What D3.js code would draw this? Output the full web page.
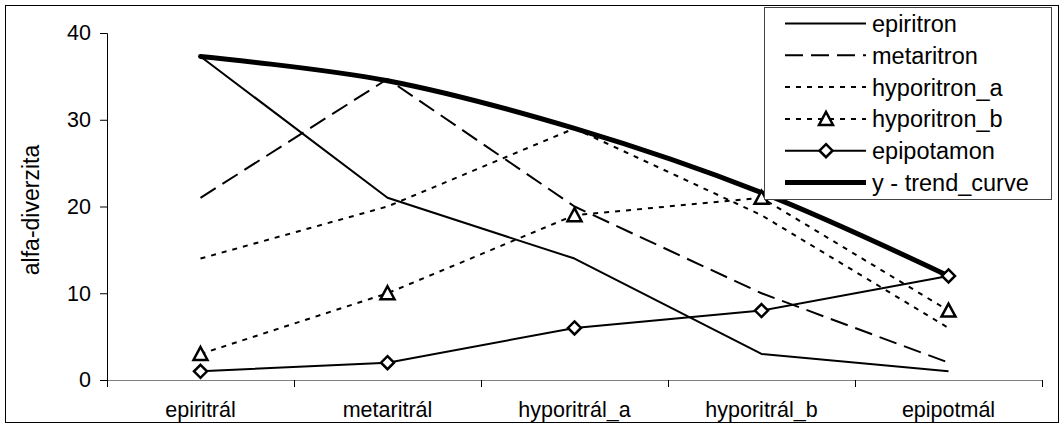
<!DOCTYPE html>
<html>
<head>
<meta charset="utf-8">
<script src="https://cdn.jsdelivr.net/npm/d3@7"></script>
<style>
  body { margin: 0; background: #fff; }
  text { font-family: "Liberation Sans", Arial, sans-serif; fill: #000; }
</style>
</head>
<body>
<svg id="chart" width="1064" height="428"></svg>
<script>
// categories and series
var categories = ["epiritrál", "metaritrál", "hyporitrál_a", "hyporitrál_b", "epipotmál"];
var epiritron    = [37.3, 21, 14, 3, 1];
var metaritron   = [21, 34.7, 20, 10, 2];
var hyporitron_a = [14, 20, 29, 19, 6];
var hyporitron_b = [3, 10, 19, 21, 8];
var epipotamon   = [1, 2, 6, 8, 12];
var trend_curve  = [37.3, 34.5, 29, 21.6, 12];
var yTicks = [0, 10, 20, 30, 40];

var series = [
  {name: "epiritron",       values: epiritron,    dash: null,   width: 2, marker: null},
  {name: "metaritron",      values: metaritron,   dash: "18,8", width: 2, marker: null},
  {name: "hyporitron_a",    values: hyporitron_a, dash: "5,6",  width: 2, marker: null},
  {name: "hyporitron_b",    values: hyporitron_b, dash: "5,6",  width: 2, marker: "triangle"},
  {name: "epipotamon",      values: epipotamon,   dash: null,   width: 2, marker: "diamond"},
  {name: "y - trend_curve", values: trend_curve,  dash: null,   width: 5, marker: null, smooth: true}
];

var svg = d3.select("#chart");
var margin = {left: 107, right: 22, top: 33, bottom: 48};
var width = 1064 - margin.left - margin.right;
var height = 428 - margin.top - margin.bottom;

// outer frame
svg.append("rect")
    .attr("x", 5.5).attr("y", 5.5)
    .attr("width", 1053).attr("height", 417)
    .attr("fill", "none")
    .attr("stroke", "#000")
    .attr("stroke-width", 1);

var g = svg.append("g")
    .attr("transform", "translate(" + margin.left + "," + margin.top + ")");

var x = d3.scaleBand()
    .domain(categories)
    .range([0, width]);

var y = d3.scaleLinear()
    .domain([0, 40])
    .range([height, 0]);

// y axis
var yAxis = g.append("g")
    .call(d3.axisLeft(y).tickValues(yTicks).tickSize(7).tickPadding(9));
yAxis.select(".domain").attr("stroke", "#000");
yAxis.selectAll("text").style("font-size", "21.5px").style("font-family", "Liberation Sans, Arial, sans-serif");

// x axis
var xAxis = g.append("g")
    .attr("transform", "translate(0," + height + ")")
    .call(d3.axisBottom(x).tickSize(0).tickPadding(22));
xAxis.select(".domain").attr("stroke", "#808080");
xAxis.selectAll("text").style("font-size", "21.5px").style("font-family", "Liberation Sans, Arial, sans-serif");

// band boundary ticks
g.append("g")
  .selectAll("line")
  .data(categories.concat([null]))
  .join("line")
    .attr("x1", function(d, i) { return Math.round(i * x.bandwidth()) + 0.5; })
    .attr("x2", function(d, i) { return Math.round(i * x.bandwidth()) + 0.5; })
    .attr("y1", height)
    .attr("y2", height + 7)
    .attr("stroke", "#000");

// y axis label
svg.append("text")
    .attr("transform", "translate(39," + (margin.top + 177) + ") rotate(-90)")
    .attr("text-anchor", "middle")
    .style("font-size", "23px")
    .text("alfa-diverzita");

var cx = function(i) { return x(categories[i]) + x.bandwidth() / 2; };

var line = d3.line()
    .x(function(d, i) { return cx(i); })
    .y(function(d) { return y(d); });

var smoothLine = d3.line()
    .x(function(d, i) { return cx(i); })
    .y(function(d) { return y(d); })
    .curve(d3.curveCatmullRom.alpha(0.5));

series.forEach(function(s) {
  g.append("path")
      .datum(s.values)
      .attr("fill", "none")
      .attr("stroke", "#000")
      .attr("stroke-width", s.width)
      .attr("stroke-linejoin", "round")
      .attr("stroke-linecap", s.smooth ? "round" : "butt")
      .attr("stroke-dasharray", s.dash)
      .attr("d", s.smooth ? smoothLine : line);
});

var triangle = "M0,-7L7,6L-7,6Z";
var diamond = "M0,-6.5L6.5,0L0,6.5L-6.5,0Z";

function drawMarker(sel, type) {
  sel.append("path")
      .attr("d", type === "triangle" ? triangle : diamond)
      .attr("fill", "#fff")
      .attr("stroke", "#000")
      .attr("stroke-width", 2.5);
}

series.filter(function(s) { return s.marker; }).forEach(function(s) {
  g.append("g")
    .selectAll("g")
    .data(s.values)
    .join("g")
      .attr("transform", function(d, i) { return "translate(" + cx(i) + "," + y(d) + ")"; })
      .each(function() { drawMarker(d3.select(this), s.marker); });
});

// legend
var legend = svg.append("g").attr("transform", "translate(764,7)");
legend.append("rect")
    .attr("x", 0.5).attr("y", 0.5)
    .attr("width", 287).attr("height", 192)
    .attr("fill", "#fff")
    .attr("stroke", "#444")
    .attr("stroke-width", 1);

var rows = legend.selectAll("g.row")
    .data(series)
    .join("g")
      .attr("class", "row")
      .attr("transform", function(d, i) { return "translate(0," + (16.5 + i * 31.8) + ")"; });

rows.append("line")
    .attr("x1", 21).attr("x2", 102)
    .attr("y1", 0).attr("y2", 0)
    .attr("stroke", "#000")
    .attr("stroke-width", function(d) { return d.width; })
    .attr("stroke-dasharray", function(d) { return d.dash; });

rows.filter(function(d) { return d.marker; })
    .append("g")
      .attr("transform", "translate(62,0)")
      .each(function(d) { drawMarker(d3.select(this), d.marker); });

rows.append("text")
    .attr("x", 108)
    .attr("y", 8.5)
    .style("font-size", "23.5px")
    .text(function(d) { return d.name; });
</script>
</body>
</html>
